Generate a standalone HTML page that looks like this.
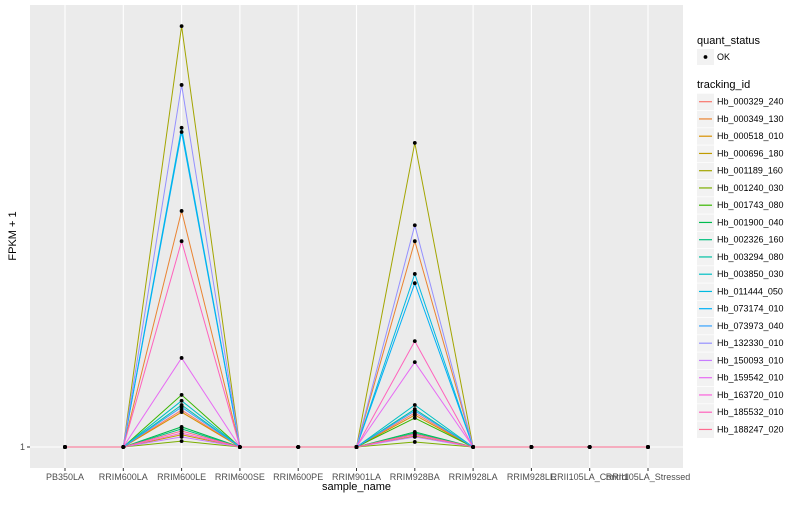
<!DOCTYPE html>
<html><head><meta charset="utf-8"><style>
body{margin:0;background:#fff;font-family:"Liberation Sans",sans-serif}
</style></head><body>
<svg id="c" width="800" height="500" xmlns="http://www.w3.org/2000/svg" font-family="Liberation Sans, sans-serif"></svg>
<script>
const categories=["PB350LA","RRIM600LA","RRIM600LE","RRIM600SE","RRIM600PE","RRIM901LA","RRIM928BA","RRIM928LA","RRIM928LE","RRII105LA_Control","RRII105LA_Stressed"];
const ids=["Hb_000329_240","Hb_000349_130","Hb_000518_010","Hb_000696_180","Hb_001189_160","Hb_001240_030","Hb_001743_080","Hb_001900_040","Hb_002326_160","Hb_003294_080","Hb_003850_030","Hb_011444_050","Hb_073174_010","Hb_073973_040","Hb_132330_010","Hb_150093_010","Hb_159542_010","Hb_163720_010","Hb_185532_010","Hb_188247_020"];
const colors=["#F8766D","#EA8331","#D89000","#C09B00","#A3A500","#7CAE00","#39B600","#00BB4E","#00BF7D","#00C1A3","#00BFC4","#00BAE0","#00B0F6","#35A2FF","#9590FF","#C77CFF","#E76BF3","#FA62DB","#FF62BC","#FF6C91"];
const valuesLE=[9.8,57.2,9.3,3.9,101.2,2.4,13.4,5.8,5.3,11,12,77,76,10.5,87.2,3.4,22.2,4.3,50,4.8];
const valuesBA=[9.1,50,8.6,3.6,73.4,2.2,7.9,4.6,4.3,10,11,42.2,40,9.6,53.8,3.4,21.2,3.9,26.2,4.1];
const yTicks=[1];
const NS="http://www.w3.org/2000/svg",svg=document.getElementById('c');
function el(t,a,p){const e=document.createElementNS(NS,t);for(const k in a)e.setAttribute(k,a[k]);(p||svg).appendChild(e);return e;}
const L=30,R=683,T=5,B=468;
const xS=i=>65+i*(648-65)/(categories.length-1);
const yS=v=>447-(v-1)*4.2;
const bg=el('rect',{x:L,y:T,width:R-L,height:B-T,fill:'#ebebeb'});


categories.forEach((c,i)=>{
 const g=el('line',{x1:xS(i),x2:xS(i),y1:T,y2:B,stroke:'#fff','stroke-width':1.1});
 
 
 const tk=el('line',{x1:xS(i),x2:xS(i),y1:B,y2:B+3,stroke:'#333'});
 
 
 const t=el('text',{x:xS(i),y:B+12,'font-size':9,fill:'#4d4d4d','text-anchor':'middle'});
 t.textContent=c;
 
 
});
yTicks.forEach(v=>{
 const g=el('line',{x1:L,x2:R,y1:yS(v),y2:yS(v),stroke:'#fff','stroke-width':1.1});
 
 
 const tk=el('line',{x1:L-3,x2:L,y1:yS(v),y2:yS(v),stroke:'#333'});
 
 
 const t=el('text',{x:L-5,y:yS(v)+3,'font-size':9,fill:'#4d4d4d','text-anchor':'end'});
 t.textContent=String(v);
 
 
});
function seriesVals(s){return categories.map((c,i)=>i===2?valuesLE[s]:i===6?valuesBA[s]:1);}
ids.forEach((id,s)=>{
 const v=seriesVals(s);
 const p=el('polyline',{points:v.map((d,i)=>xS(i)+','+yS(d)).join(' '),fill:'none',stroke:colors[s],'stroke-width':1});
 
 
});
ids.forEach((id,s)=>{
 seriesVals(s).forEach((d,i)=>{
  const c=el('circle',{cx:xS(i),cy:yS(d),r:1.9,fill:'#000'});
  
  
 });
});
const xt=el('text',{x:(L+R)/2,y:490,'font-size':11,fill:'#000','text-anchor':'middle'});
xt.textContent='sample_name';


const yt=el('text',{x:0,y:0,'font-size':11,fill:'#000','text-anchor':'middle',transform:'translate(16,236) rotate(-90)'});
yt.textContent='FPKM + 1';


const qt=el('text',{x:697,y:44,'font-size':11,fill:'#000'});
qt.textContent='quant_status';


const qb=el('rect',{x:697,y:49,width:17,height:16,fill:'#f2f2f2'});


const qc=el('circle',{cx:705.5,cy:57,r:1.9,fill:'#000'});


const qtx=el('text',{x:717,y:60,'font-size':9,fill:'#000'});
qtx.textContent='OK';


const tt=el('text',{x:697,y:88,'font-size':11,fill:'#000'});
tt.textContent='tracking_id';


ids.forEach((id,s)=>{
 const y=101.7+s*17.25;
 const b=el('rect',{x:697,y:y-8,width:17,height:16.5,fill:'#f2f2f2'});
 
 
 const l=el('line',{x1:699,x2:712,y1:y,y2:y,stroke:colors[s],'stroke-width':1.2});
 
 
 const t=el('text',{x:717,y:y+3,'font-size':9,fill:'#000'});
 t.textContent=id;
 
 
});
</script>
</body></html>
